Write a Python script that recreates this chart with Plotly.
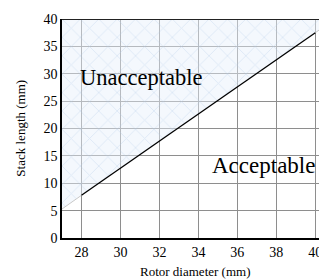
import plotly.graph_objects as go

# Boundary between acceptable / unacceptable designs
boundary_x = [28, 40]
boundary_y = [7.8, 37.5]
# faint extension of the boundary to the plot edges
ext_left_x = [27, 28]
ext_left_y = [5.3, 7.8]
ext_right_x = [40, 40.6]
ext_right_y = [37.5, 39.0]
# unacceptable region polygon
region_x = [27, 28, 40, 40.6, 40.6, 27, 27]
region_y = [5.3, 7.8, 37.5, 39.0, 40, 40, 5.3]

x_ticks = [28, 30, 32, 34, 36, 38, 40]
y_ticks = [0, 5, 10, 15, 20, 25, 30, 35, 40]

FONT = "Liberation Serif, Times New Roman, serif"

# the page body adds an 8px margin; the figure is sized to fit the window
W, H = 319, 272

fig = go.Figure()
fig.add_trace(go.Scatter(
    x=region_x, y=region_y, mode="none", fill="toself",
    fillcolor="rgba(215,230,248,0.35)",
    fillpattern=dict(shape="x", size=13, solidity=0.12,
                     fgcolor="rgba(180,205,235,0.8)",
                     bgcolor="rgba(230,240,251,0.45)"),
    hoverinfo="skip", showlegend=False))
for xs, ys in [(ext_left_x, ext_left_y), (ext_right_x, ext_right_y)]:
    fig.add_trace(go.Scatter(x=xs, y=ys, mode="lines",
                             line=dict(color="#c8c8c8", width=1),
                             hoverinfo="skip", showlegend=False))
fig.add_trace(go.Scatter(x=boundary_x, y=boundary_y, mode="lines",
                         line=dict(color="black", width=1.3),
                         showlegend=False))

fig.add_annotation(x=27.8, y=29.3, text="Unacceptable", showarrow=False,
                   xanchor="left", yanchor="middle",
                   font=dict(family=FONT, size=22.5, color="black"))
fig.add_annotation(x=34.62, y=13.2, text="Acceptable", showarrow=False,
                   xanchor="left", yanchor="middle",
                   font=dict(family=FONT, size=23, color="black"))

# axis titles
fig.add_annotation(xref="paper", yref="paper", x=0.5, y=-0.155,
                   text="Rotor diameter (mm)", showarrow=False,
                   xanchor="center", yanchor="middle",
                   font=dict(family=FONT, size=13, color="black"))
fig.add_annotation(xref="paper", yref="paper", x=-0.158, y=0.5,
                   text="Stack length (mm)", showarrow=False, textangle=-90,
                   xanchor="center", yanchor="middle",
                   font=dict(family=FONT, size=13, color="black"))

fig.add_shape(type="line", xref="paper", yref="y", x0=0, x1=1, y0=40, y1=40,
              line=dict(color="#222222", width=2))

fig.update_layout(
    width=W, height=H,
    margin=dict(l=54, r=0, t=11, b=42),
    paper_bgcolor="white", plot_bgcolor="white",
    font=dict(family=FONT, color="black", size=14),
    xaxis=dict(range=[27, 40.6], tickvals=x_ticks, showgrid=True,
               gridcolor="#8e8e8e", gridwidth=1, zeroline=False,
               showline=True, linecolor="black", linewidth=1.5,
               ticks="", tickfont=dict(size=14), automargin=False),
    yaxis=dict(range=[0, 40], tickvals=y_ticks, showgrid=True,
               gridcolor="#8e8e8e", gridwidth=1, zeroline=False,
               showline=True, linecolor="black", linewidth=1.5,
               ticks="", tickfont=dict(size=14), automargin=False),
)

fig.write_html("out.html")
